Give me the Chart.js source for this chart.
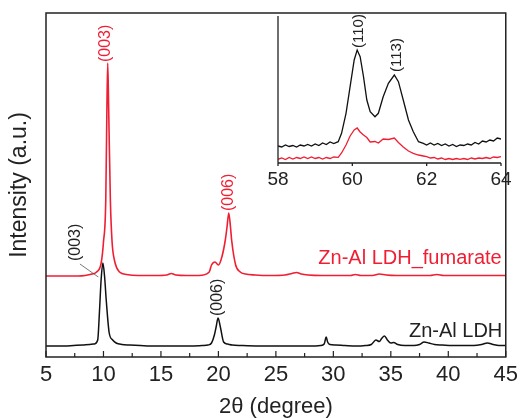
<!DOCTYPE html>
<html lang="en">
<head>
<meta charset="UTF-8">
<title>XRD Zn-Al LDH</title>
<script src="https://cdn.jsdelivr.net/npm/chart.js"></script>
<style>
  body { margin: 0; background: #fff; }
  #wrap { position: relative; width: 523px; height: 418px; }
  #main { position: absolute; left: 0; top: 0; }
  #inset { position: absolute; left: 260px; top: 0; }
</style>
</head>
<body>
<div id="wrap">
  <canvas id="main" width="523" height="418"></canvas>
  <canvas id="inset" width="263" height="200"></canvas>
</div>
<script>
// main pattern, 2theta (degree) vs intensity (a.u.)
const ldhX = [5, 5.8, 6.6, 7.4, 8.2, 8.8, 9.2, 9.5, 9.65, 9.8,
  9.95, 10.1, 10.24, 10.5, 10.8, 11.1, 11.6, 12.3, 13.2, 14.5,
  16, 17.5, 18.6, 19.1, 19.4, 19.65, 19.8, 19.97, 20.17, 20.45,
  20.8, 21.2, 22, 23.5, 25, 26.5, 28, 28.9, 29.2, 29.38,
  29.5, 29.7, 30.2, 31, 32, 32.8, 33.3, 33.7, 34, 34.2,
  34.45, 34.7, 35, 35.25, 35.6, 36.2, 37, 37.5, 37.9, 38.3,
  38.8, 39.5, 40.3, 41.2, 42.2, 42.9, 43.4, 43.9, 44.4, 45];
const ldhY = [11, 11, 11, 11.5, 12, 12.5, 13, 17, 45, 78,
  94, 80, 57, 24, 17, 14, 12.5, 12, 11.5, 11,
  11, 11, 11.5, 12, 14, 22, 30, 39, 30, 15,
  13, 12, 11.5, 11, 11, 11, 11, 11.5, 13, 20,
  15, 12.5, 12, 11.5, 11, 11.5, 12.5, 17, 15.5, 18.5,
  21, 17, 14, 14.5, 12.5, 11.5, 11.5, 12.5, 15, 14,
  12.5, 12, 11.5, 11.5, 11.5, 12.5, 14, 12.5, 11.5, 11.5];

const fumX = [5, 6, 7, 7.8, 8.4, 9, 9.4, 9.8, 10, 10.2,
  10.3, 10.37, 10.45, 10.6, 10.75, 10.95, 11.4, 12, 13, 14.5,
  15.5, 15.9, 16.3, 17.2, 18.3, 19.2, 19.4, 19.7, 20, 20.3,
  20.6, 20.75, 20.9, 21.05, 21.15, 21.5, 21.9, 22.35, 23.2, 24.5,
  25.8, 26.4, 26.8, 27.2, 27.8, 29, 30.5, 31.5, 31.9, 32.4,
  33.4, 34, 34.6, 35.5, 37, 38.4, 39, 39.6, 41, 42.5,
  44, 45];
const fumY = [81, 81, 81, 81, 81.5, 83, 85, 94, 115, 157,
  250, 294, 250, 157, 115, 97, 85, 82.5, 81.5, 81.5,
  82, 83.5, 82, 81.5, 81.5, 85, 92, 95, 92, 100,
  117, 130, 144, 130, 117, 92, 85, 83, 82, 81.5,
  82, 83.5, 84.5, 83, 82, 81.5, 81.5, 81.5, 82.5, 81.5,
  81.5, 83, 82, 81.5, 81.5, 81.5, 82.5, 81.5, 81.5, 81.5,
  81.5, 81.5];

const mainTicks = [5, 10, 15, 20, 25, 30, 35, 40, 45];

// inset, 58-64 degree
const insX = [58, 58.1, 58.2, 58.3, 58.4, 58.5, 58.6, 58.7, 58.8, 58.9,
  59, 59.1, 59.2, 59.3, 59.4, 59.5, 59.62, 59.71, 59.83, 59.94,
  60.05, 60.13, 60.21, 60.3, 60.39, 60.48, 60.61, 60.7, 60.83, 60.97,
  61.13, 61.24, 61.37, 61.51, 61.64, 61.78, 61.91, 62, 62.1, 62.2,
  62.3, 62.4, 62.5, 62.6, 62.7, 62.8, 62.9, 63, 63.1, 63.2,
  63.3, 63.4, 63.5, 63.6, 63.7, 63.8, 63.9, 64];
const insBlack = [17, 16, 18, 16.5, 17.5, 16, 18, 17, 18.5, 17,
  19, 17.5, 20, 18.5, 21, 19.5, 21.3, 29.7, 49.7, 76.3,
  103, 113, 106.3, 86.3, 63, 51.3, 46.3, 49.7, 66.3, 79.7,
  88, 81.3, 63, 43, 31.3, 21.3, 19.7, 18, 20, 18,
  19.5, 17.5, 19, 17, 18.5, 16.5, 18, 17.5, 19, 18,
  20.5, 19, 22, 21, 23, 22, 25, 24];
const insRed = [3.7, 5, 3.5, 5.5, 4, 5.5, 4.5, 6, 4.5, 6,
  4.5, 5.5, 4, 5.5, 4.5, 6, 5.7, 10, 18, 27,
  33, 35, 31, 28, 25.5, 21, 21.5, 20, 24, 23.5,
  25, 20.5, 16, 12, 9.7, 8, 7, 6.3, 5, 5.5,
  4, 5, 3.5, 4.5, 3.5, 4.5, 3.7, 4.5, 3.5, 5,
  4, 5, 4.5, 5.5, 4.5, 6, 5.5, 6.3];

const insetTicks = [58, 60, 62, 64];

const FONT = '"Liberation Sans", Arial, sans-serif';
const RED = '#f01e32';
const INK = '#222';

const pts = (xs, ys) => xs.map((x, i) => ({x: x, y: ys[i]}));

function vText(ctx, text, px, py, color, size) {
  ctx.save();
  ctx.translate(px, py);
  ctx.rotate(-Math.PI / 2);
  ctx.font = size + 'px ' + FONT;
  ctx.fillStyle = color;
  ctx.textAlign = 'left';
  ctx.textBaseline = 'middle';
  ctx.fillText(text, 0, 0);
  ctx.restore();
}

// frame, inward ticks, peak labels and sample names
const mainDeco = {
  id: 'mainDeco',
  afterDraw(chart) {
    const {ctx, chartArea: a, scales: {x, y}} = chart;
    ctx.save();
    ctx.strokeStyle = INK;
    ctx.lineWidth = 1.5;
    ctx.strokeRect(a.left, a.top, a.right - a.left, a.bottom - a.top);
    ctx.lineWidth = 1.2;
    ctx.beginPath();
    mainTicks.forEach((v, i) => {
      const px = x.getPixelForValue(v);
      ctx.moveTo(px, a.bottom); ctx.lineTo(px, a.bottom - 6);
      if (i < mainTicks.length - 1) {
        const pm = x.getPixelForValue(v + 2.5);
        ctx.moveTo(pm, a.bottom); ctx.lineTo(pm, a.bottom - 4);
      }
    });
    ctx.stroke();

    // leader for the black (003)
    ctx.strokeStyle = '#555';
    ctx.lineWidth = 0.8;
    ctx.beginPath();
    ctx.moveTo(x.getPixelForValue(7.95), y.getPixelForValue(93));
    ctx.lineTo(x.getPixelForValue(9.55), y.getPixelForValue(80));
    ctx.stroke();

    vText(ctx, '(003)', x.getPixelForValue(10.2), y.getPixelForValue(295), RED, 16);
    vText(ctx, '(006)', x.getPixelForValue(20.9), y.getPixelForValue(146), RED, 16);
    vText(ctx, '(003)', x.getPixelForValue(7.6), y.getPixelForValue(96), INK, 16);
    vText(ctx, '(006)', x.getPixelForValue(19.9), y.getPixelForValue(41), INK, 16);

    ctx.font = '20px ' + FONT;
    ctx.textAlign = 'right';
    ctx.textBaseline = 'alphabetic';
    ctx.fillStyle = RED;
    ctx.fillText('Zn-Al LDH_fumarate', x.getPixelForValue(44.65), y.getPixelForValue(93));
    ctx.fillStyle = INK;
    ctx.fillText('Zn-Al LDH', x.getPixelForValue(44.7), y.getPixelForValue(20));
    ctx.restore();
  }
};

new Chart(document.getElementById('main'), {
  type: 'line',
  data: {
    datasets: [
      {label: 'Zn-Al LDH', data: pts(ldhX, ldhY), borderColor: '#111', borderWidth: 1.5,
       pointRadius: 0, cubicInterpolationMode: 'monotone'},
      {label: 'Zn-Al LDH_fumarate', data: pts(fumX, fumY), borderColor: RED, borderWidth: 1.6,
       pointRadius: 0, cubicInterpolationMode: 'monotone'}
    ]
  },
  options: {
    responsive: false,
    animation: false,
    devicePixelRatio: 1,
    layout: {padding: {top: 13, right: 13, left: 0, bottom: 0}},
    plugins: {legend: {display: false}, tooltip: {enabled: false}},
    scales: {
      x: {
        type: 'linear', min: 5, max: 45,
        afterFit: s => { s.height = 61; },
        afterBuildTicks: s => { s.ticks = mainTicks.map(v => ({value: v})); },
        grid: {display: false, drawTicks: false},
        border: {display: false},
        ticks: {padding: 5, color: INK, autoSkip: false, maxRotation: 0,
                font: {family: FONT, size: 22}},
        title: {display: true, text: '2θ (degree)', color: INK, padding: 0,
                font: {family: FONT, size: 22, lineHeight: 1}}
      },
      y: {
        min: 0, max: 344,
        afterFit: s => { s.width = 46; },
        grid: {display: false, drawTicks: false},
        border: {display: false},
        ticks: {display: false},
        title: {display: true, text: 'Intensity (a.u.)', color: INK, padding: {top: 8},
                font: {family: FONT, size: 23, lineHeight: 1}}
      }
    }
  },
  plugins: [mainDeco]
});

const insetDeco = {
  id: 'insetDeco',
  afterDraw(chart) {
    const {ctx, chartArea: a, scales: {x, y}} = chart;
    ctx.save();
    ctx.strokeStyle = INK;
    ctx.lineWidth = 1.3;
    ctx.beginPath();
    ctx.moveTo(a.left, a.top + 3);
    ctx.lineTo(a.left, a.bottom);
    ctx.lineTo(a.right, a.bottom);
    insetTicks.forEach(v => {
      const px = x.getPixelForValue(v);
      ctx.moveTo(px, a.bottom); ctx.lineTo(px, a.bottom + 3);
    });
    ctx.stroke();
    vText(ctx, '(110)', x.getPixelForValue(60.18), y.getPixelForValue(115), INK, 15);
    vText(ctx, '(113)', x.getPixelForValue(61.2), y.getPixelForValue(91), INK, 15);
    ctx.restore();
  }
};

new Chart(document.getElementById('inset'), {
  type: 'line',
  data: {
    datasets: [
      {label: 'Zn-Al LDH', data: pts(insX, insBlack), borderColor: '#111', borderWidth: 1.3,
       pointRadius: 0, tension: 0},
      {label: 'Zn-Al LDH_fumarate', data: pts(insX, insRed), borderColor: RED, borderWidth: 1.3,
       pointRadius: 0, tension: 0}
    ]
  },
  options: {
    responsive: false,
    animation: false,
    devicePixelRatio: 1,
    layout: {padding: {top: 13, right: 22, left: 18, bottom: 0}},
    plugins: {legend: {display: false}, tooltip: {enabled: false}},
    scales: {
      x: {
        type: 'linear', min: 58, max: 64,
        afterFit: s => { s.height = 37; },
        afterBuildTicks: s => { s.ticks = insetTicks.map(v => ({value: v})); },
        grid: {display: false, drawTicks: false},
        border: {display: false},
        ticks: {padding: 5, color: INK, autoSkip: false, maxRotation: 0,
                font: {family: FONT, size: 19}}
      },
      y: {display: false, min: 0, max: 150}
    }
  },
  plugins: [insetDeco]
});
</script>
</body>
</html>
